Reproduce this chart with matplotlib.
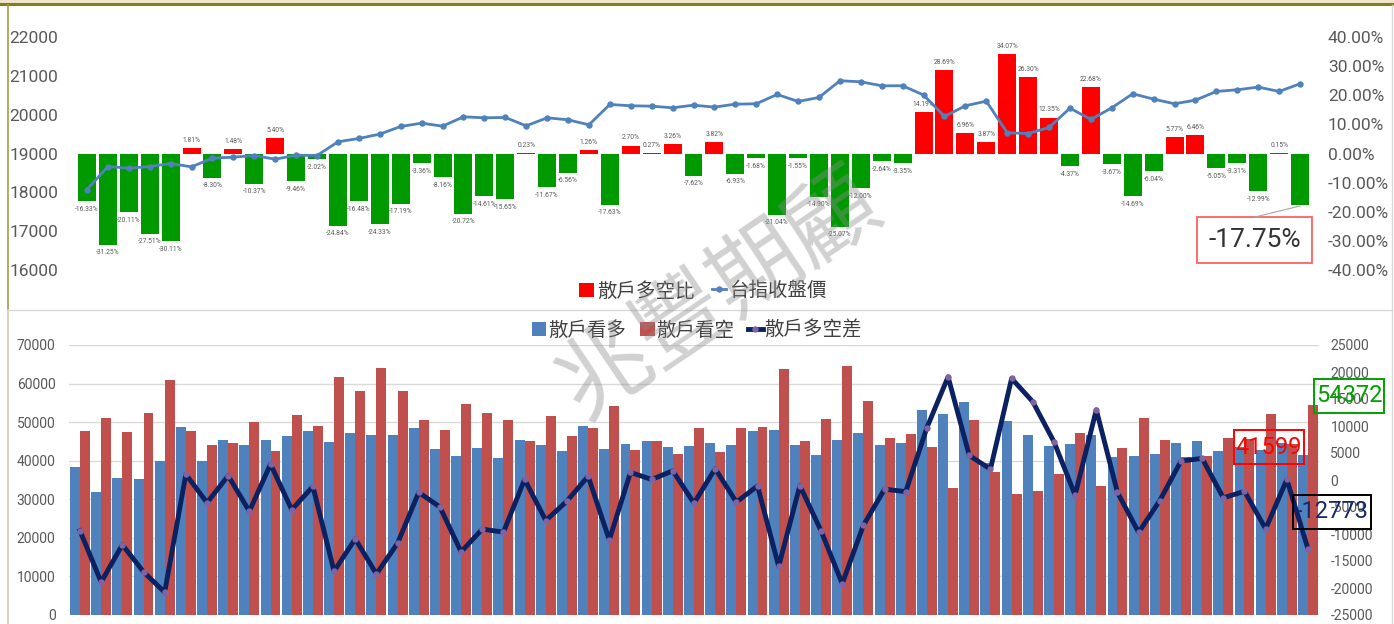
import numpy as np
import matplotlib
matplotlib.use("Agg")
import matplotlib.pyplot as plt
from matplotlib.patches import Rectangle, Patch
from matplotlib.lines import Line2D
from matplotlib.ticker import FuncFormatter, MultipleLocator

plt.rcParams['font.family'] = ['Roboto', 'Noto Sans CJK TC', 'DejaVu Sans']
plt.rcParams['axes.unicode_minus'] = False

# ---------------- data ----------------
ratio_pct = [-16.33, -31.25, -20.11, -27.51, -30.11, 1.81, -8.30, 1.48, -10.37, 5.40,
             -9.46, -2.02, -24.84, -16.48, -24.33, -17.19, -3.36, -8.16, -20.72, -14.61,
             -15.65, 0.23, -11.67, -6.56, 1.26, -17.63, 2.70, 0.27, 3.26, -7.62,
             3.82, -6.93, -1.68, -21.04, -1.55, -14.90, -25.07, -12.00, -2.64, -3.35,
             14.19, 28.69, 6.96, 3.87, 34.07, 26.30, 12.35, -4.37, 22.68, -3.67,
             -14.69, -6.04, 5.77, 6.46, -5.05, -3.31, -12.99, 0.15, -17.75]

taiex_close = [18072, 18665, 18621, 18665, 18742, 18656, 18880, 18905, 18948, 18853,
               18957, 18948, 19301, 19387, 19498, 19696, 19781, 19704, 19945, 19919,
               19928, 19713, 19919, 19868, 19739, 20263, 20229, 20219, 20177, 20245,
               20194, 20271, 20280, 20521, 20340, 20443, 20873, 20847, 20744, 20744,
               20507, 19954, 20229, 20348, 19533, 19515, 19670, 20168, 19876, 20177,
               20538, 20400, 20280, 20374, 20598, 20641, 20710, 20598, 20796]

retail_long = [38300, 32000, 35400, 35300, 39900, 48700, 40000, 45500, 44000, 45400,
               46300, 47800, 44800, 47200, 46700, 46600, 48400, 43000, 41200, 43200,
               40700, 45300, 44200, 42500, 49100, 43100, 44300, 45200, 43600, 43900,
               44500, 44200, 47600, 47900, 44100, 41400, 45400, 47100, 44100, 44700,
               53200, 52000, 55100, 39300, 50400, 46600, 43800, 44300, 46700, 40900,
               41200, 41700, 44500, 45100, 42600, 43600, 42900, 44500, 41599]

retail_short = [47600, 51000, 47400, 52300, 60800, 47600, 44200, 44700, 50000, 42400,
                51900, 48900, 61700, 58200, 64000, 58200, 50600, 47900, 54600, 52300,
                50500, 45100, 51700, 46500, 48400, 54300, 42900, 45000, 41800, 48400,
                42300, 48500, 48700, 63900, 45000, 50900, 64600, 55600, 45800, 46800,
                43600, 32800, 50600, 37200, 31400, 32100, 36600, 47100, 33500, 43200,
                51100, 45400, 40900, 41100, 45900, 45700, 52000, 44400, 54372]

retail_net = [-9400, -18900, -12000, -17000, -20800, 1050, -4200, 800, -5800, 2950,
              -5500, -1200, -16900, -10900, -17400, -11700, -2300, -5000, -13300, -9100,
              -9650, 100, -7500, -3900, 700, -11100, 1400, 100, 1700, -4300,
              2100, -4100, -1100, -16000, -1050, -9400, -19200, -8400, -1700, -2150,
              9700, 19100, 4550, 2000, 18800, 14500, 7100, -2800, 13000, -2300,
              -9700, -3800, 3500, 4000, -3300, -2100, -9050, 100, -12773]

top_legend = ["散戶多空比", "台指收盤價"]
bottom_legend = ["散戶看多", "散戶看空", "散戶多空差"]
watermark = "兆豐期顧"

# ---------------- layout helpers ----------------
W, H = 1394, 624
fig = plt.figure(figsize=(W / 100, H / 100), dpi=100)
fig.patch.set_facecolor("white")

def fx(px):
    return px / W

def fy(py):
    return 1 - py / H

TICK_COLOR = "#595959"
n = len(ratio_pct)
x = np.arange(n)

# ---------------- top chart ----------------
ax1 = fig.add_axes([fx(76.5), fy(270), (1310.5 - 76.5) / W, (270 - 37) / H])
ax1p = ax1.twinx()

bar_colors = ["#ff0000" if v >= 0 else "#009900" for v in ratio_pct]
ax1.bar(x, ratio_pct, width=0.86, color=bar_colors, zorder=2)
ax1.set_ylim(-40, 40)
ax1.set_xlim(-0.5, n - 0.5)
ax1.yaxis.set_major_locator(MultipleLocator(10))
ax1.yaxis.set_major_formatter(FuncFormatter(lambda v, p: f"{v:.2f}%"))
ax1.set_xticks([])
for s in ax1.spines.values():
    s.set_visible(False)

# small data labels (the last value is shown in the big callout instead)
for i, v in enumerate(ratio_pct[:-1]):
    off = 5.5 if v >= 0 else -5.8
    ax1.annotate(f"{v:.2f}%", xy=(i, v), xytext=(0, off), textcoords="offset points",
                 ha="center", va="center", fontsize=4.9, color=TICK_COLOR, zorder=3)

ax1p.plot(x, taiex_close, color="#4f81bd", lw=2.0, marker="o", ms=3.6, zorder=4)
ax1p.set_ylim(16000, 22000)
ax1p.yaxis.set_major_locator(MultipleLocator(1000))
for s in ax1p.spines.values():
    s.set_visible(False)

# axis sides: percent on the right, price on the left
ax1.yaxis.tick_right()
ax1p.yaxis.tick_left()
ax1.tick_params(axis='y', which='both', left=False, labelleft=False, right=False,
                labelright=True, length=0, pad=12.5, labelsize=12.5, labelcolor=TICK_COLOR)
ax1p.tick_params(axis='y', which='both', right=False, labelright=False, left=False,
                 labelleft=True, length=0, pad=13, labelsize=12.5, labelcolor=TICK_COLOR)

# ---------------- bottom chart ----------------
ax2 = fig.add_axes([fx(69.4), fy(615), (1318.6 - 69.4) / W, 270 / H])
bw = 0.47
ax2.bar(x - bw / 2, retail_long, width=bw, color="#4f81bd", zorder=2)
ax2.bar(x + bw / 2, retail_short, width=bw, color="#c0504d", zorder=2)
ax2.set_ylim(0, 70000)
ax2.set_xlim(-0.5, n - 0.5)
ax2.yaxis.set_major_locator(MultipleLocator(10000))
ax2.grid(axis='y', color="#d9d9d9", lw=1.0, zorder=0)
ax2.set_axisbelow(True)
ax2.tick_params(axis='y', length=0, pad=10, labelsize=10, labelcolor=TICK_COLOR)
ax2.set_xticks([])
for s in ax2.spines.values():
    s.set_visible(False)

ax2l = ax2.twinx()
ax2l.plot(x, retail_net, color="#0b2161", lw=3.5, marker="o", ms=3.6,
          mfc="#8064a2", mec="#8064a2", zorder=4)
ax2l.set_ylim(-25000, 25000)
ax2l.yaxis.set_major_locator(MultipleLocator(5000))
ax2l.tick_params(axis='y', length=0, pad=8.5, labelsize=10, labelcolor=TICK_COLOR)
for s in ax2l.spines.values():
    s.set_visible(False)

# ---------------- legends ----------------
h_top = [Patch(facecolor="#ff0000"),
         Line2D([], [], color="#4f81bd", lw=2.0, marker="o", ms=3.6)]
fig.legend(h_top, top_legend, loc="center", bbox_to_anchor=(fx(703), fy(291)), ncol=2,
           frameon=False, fontsize=14, handlelength=0.75, handleheight=0.75,
           handletextpad=0.15, columnspacing=0.9, labelcolor="#404040")

h_bot = [Patch(facecolor="#4f81bd"), Patch(facecolor="#c0504d"),
         Line2D([], [], color="#0b2161", lw=3.5, marker="o", ms=3.6,
                mfc="#8064a2", mec="#8064a2")]
fig.legend(h_bot, bottom_legend, loc="center", bbox_to_anchor=(fx(697), fy(330)), ncol=3,
           frameon=False, fontsize=14, handlelength=0.75, handleheight=0.75,
           handletextpad=0.1, columnspacing=0.7, labelcolor="#404040")

# ---------------- callout boxes ----------------
def callout(x0, y0, x1, y1, text, tcolor, ecolor, size):
    fig.add_artist(Rectangle((fx(x0), fy(y1)), (x1 - x0) / W, (y1 - y0) / H,
                             transform=fig.transFigure, fill=False,
                             edgecolor=ecolor, lw=1.4, zorder=20))
    fig.text(fx((x0 + x1) / 2), fy((y0 + y1) / 2), text, ha="center", va="center",
             fontsize=size, color=tcolor, zorder=21)

callout(1197, 217, 1312, 263, f"{ratio_pct[-1]:.2f}%", "#333333", "#ff6b6b", 19)
fig.add_artist(Line2D([fx(1255), fx(1300)], [fy(217), fy(206)], transform=fig.transFigure,
                      color="#a6a6a6", lw=0.8, zorder=20))
callout(1314, 379, 1384, 413, f"{retail_short[-1]}", "#00a000", "#00a000", 17)
callout(1234, 430, 1304, 464, f"{retail_long[-1]}", "#ff0000", "#ff0000", 17)
callout(1293, 495, 1371, 529, f"{retail_net[-1]}", "#14286e", "#000000", 17)

# ---------------- frame decoration ----------------
fig.add_artist(Rectangle((0, fy(3)), 1, 3 / H, transform=fig.transFigure,
                         color="#f2e4cf", lw=0, zorder=1))
fig.add_artist(Line2D([0, 1], [fy(4), fy(4)], transform=fig.transFigure,
                      color="#808018", lw=2.2, zorder=2))
fig.add_artist(Line2D([fx(8), fx(8)], [fy(5), fy(310)], transform=fig.transFigure,
                      color="#a39c4c", lw=1.2, zorder=2))
fig.add_artist(Line2D([fx(8), fx(8)], [fy(310), 0], transform=fig.transFigure,
                      color="#cfcab0", lw=1.2, zorder=2))
fig.add_artist(Line2D([fx(8), fx(1392)], [fy(310), fy(310)], transform=fig.transFigure,
                      color="#d9d9d9", lw=1.0, zorder=2))
fig.add_artist(Line2D([fx(1392), fx(1392)], [fy(5), 0], transform=fig.transFigure,
                      color="#d9d9d9", lw=1.0, zorder=2))

# ---------------- watermark ----------------
fig.text(fx(720), fy(295), watermark, rotation=34, rotation_mode="anchor",
         ha="center", va="center", fontsize=66, fontweight="normal",
         color="#8c8c8c", alpha=0.4, zorder=15, family=["Noto Sans CJK TC"])

fig.savefig("out.png", dpi=100)
